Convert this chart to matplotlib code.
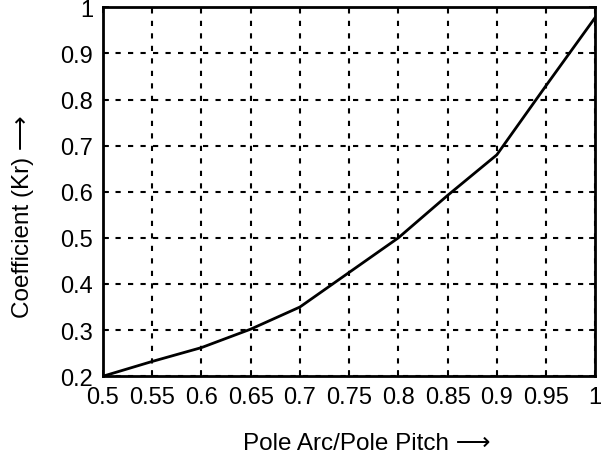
import matplotlib.pyplot as plt
import numpy as np

plt.rcParams['font.family'] = ['Liberation Sans', 'DejaVu Sans']

ratio = [0.5, 0.55, 0.6, 0.65, 0.7, 0.75, 0.8, 0.85, 0.9, 0.95, 1.0]
kr = [0.2, 0.232, 0.262, 0.302, 0.35, 0.425, 0.5, 0.592, 0.68, 0.83, 0.978]

xticks = [0.5, 0.55, 0.6, 0.65, 0.7, 0.75, 0.8, 0.85, 0.9, 0.95, 1]
xticklabels = ['0.5', '0.55', '0.6', '0.65', '0.7', '0.75', '0.8', '0.85', '0.9', '0.95', '1']
yticks = [0.2, 0.3, 0.4, 0.5, 0.6, 0.7, 0.8, 0.9, 1]
yticklabels = ['0.2', '0.3', '0.4', '0.5', '0.6', '0.7', '0.8', '0.9', '1']

fig = plt.figure(figsize=(6.04, 4.6), dpi=100)
ax = fig.add_axes([0.1705, 0.180, 0.815, 0.802])

ax.plot(ratio, kr, color='black', linewidth=2.0)

ax.set_xlim(0.5, 1)
ax.set_ylim(0.2, 1)
ax.set_xticks(xticks)
ax.set_xticklabels(xticklabels)
ax.set_yticks(yticks)
ax.set_yticklabels(yticklabels)
ax.tick_params(direction='in', length=4, width=1.2, labelsize=17, pad=7,
               top=True, right=True)
ax.grid(True, color='black', linestyle=(0, (2.5, 3.5)), linewidth=1.5)

for s in ax.spines.values():
    s.set_linewidth(2.0)

ax.set_xlabel('Pole Arc/Pole Pitch \u27f6', fontsize=17.5)
ax.set_ylabel('Coefficient (Kr) \u27f6', fontsize=17.5)
ax.xaxis.set_label_coords(0.535, -0.15)
ax.yaxis.set_label_coords(-0.14, 0.436)

fig.savefig('out.png', dpi=100)
